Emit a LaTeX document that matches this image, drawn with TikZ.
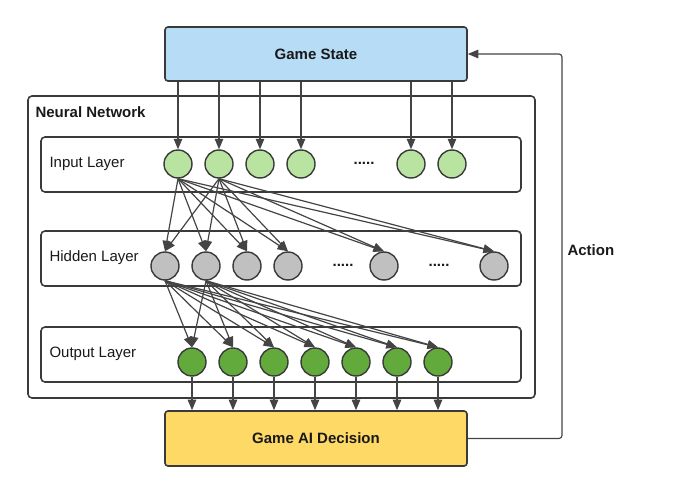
\documentclass[tikz,border=0pt]{standalone}
\usepackage{fontspec}
\setmainfont{Liberation Sans}
\usetikzlibrary{arrows.meta}
\definecolor{linegray}{HTML}{444444}
\definecolor{boxgray}{HTML}{3A3A3A}
\definecolor{stateblue}{HTML}{B7DCF5}
\definecolor{decisionyellow}{HTML}{FFD966}
\definecolor{ingreen}{HTML}{B9E3A0}
\definecolor{hidgray}{HTML}{C0C0C0}
\definecolor{outgreen}{HTML}{63AA3C}
\newcommand{\bigfont}{\fontsize{15}{18}\selectfont}
\tikzset{>={Triangle[length=10.5pt,width=8.5pt]},
link/.style={->, draw=linegray, line width=1.2pt},
block/.style={draw=boxgray, line width=1.6pt, rounded corners=3pt, minimum width=302pt, minimum height=54pt, font=\bigfont\bfseries},
layer/.style={draw=boxgray, line width=1.6pt, rounded corners=4pt, minimum width=480pt, minimum height=55pt},
neuron/.style={circle, draw=boxgray, line width=1.4pt, minimum size=28pt, inner sep=0pt},
inneuron/.style={neuron, fill=ingreen},
hidneuron/.style={neuron, fill=hidgray},
outneuron/.style={neuron, fill=outgreen},
dots/.style={font=\bigfont\bfseries},
}

\begin{document}
\begin{tikzpicture}[x=1pt, y=-1pt, font=\bigfont, text=black!90]
\useasboundingbox (0,0) rectangle (700,494);
    % outer boxes
    \node[block, fill=stateblue] (gs) at (316,54) {Game State};
    \node[block, fill=decisionyellow, minimum height=55pt] (ai) at (316,438.5) {Game AI Decision};
    \node[draw=boxgray, line width=1.6pt, rounded corners=4pt, minimum width=507pt, minimum height=302pt] (nn) at (281.5,247) {};
    \node[anchor=west, font=\bigfont\bfseries] (nnlabel) at (32,112) {Neural Network};

    % layers
    \node[layer] (inlayer) at (281,164.5) {};
    \node[layer] (hidlayer) at (281,258.5) {};
    \node[layer] (outlayer) at (281,354.5) {};
    \node[anchor=west] (inlabel) at (46,163.5) {Input Layer};
    \node[anchor=west] (hidlabel) at (46,257.5) {Hidden Layer};
    \node[anchor=west] (outlabel) at (46,353.5) {Output Layer};

    % neurons
    \foreach \x [count=\i] in {178,219,260,301,411,452}
        \node[inneuron] (in\i) at (\x,164) {};
    \foreach \x [count=\i] in {165,206,247,288,384,494}
        \node[hidneuron] (hid\i) at (\x,266) {};
    \foreach \x [count=\i] in {192,233,274,315,356,397,438}
        \node[outneuron] (out\i) at (\x,362) {};
    \node[dots] (indots) at (364,163) {.....};
    \node[dots] (hiddots1) at (343,265) {.....};
    \node[dots] (hiddots2) at (439,265) {.....};

    % connections
    \foreach \i in {1,...,6}
        \draw[link] (gs.south -| in\i) -- (in\i);
    \foreach \i in {1,2}
        \foreach \j in {1,...,6}
            \draw[link] (in\i.south) -- (hid\j.north);
    \foreach \i in {1,2}
        \foreach \j in {1,...,7}
            \draw[link] (hid\i.south) -- (out\j.north);
    \foreach \j in {1,...,7}
        \draw[link] (out\j) -- (out\j |- ai.north);

    % feedback
    \coordinate (act) at (562,250);
    \draw[link, rounded corners=3pt] (ai.east) -| (act) |- (gs.east);
    \node[anchor=west, font=\bigfont\bfseries] (actlabel) at (564,250) {Action};
\end{tikzpicture}
\end{document}
